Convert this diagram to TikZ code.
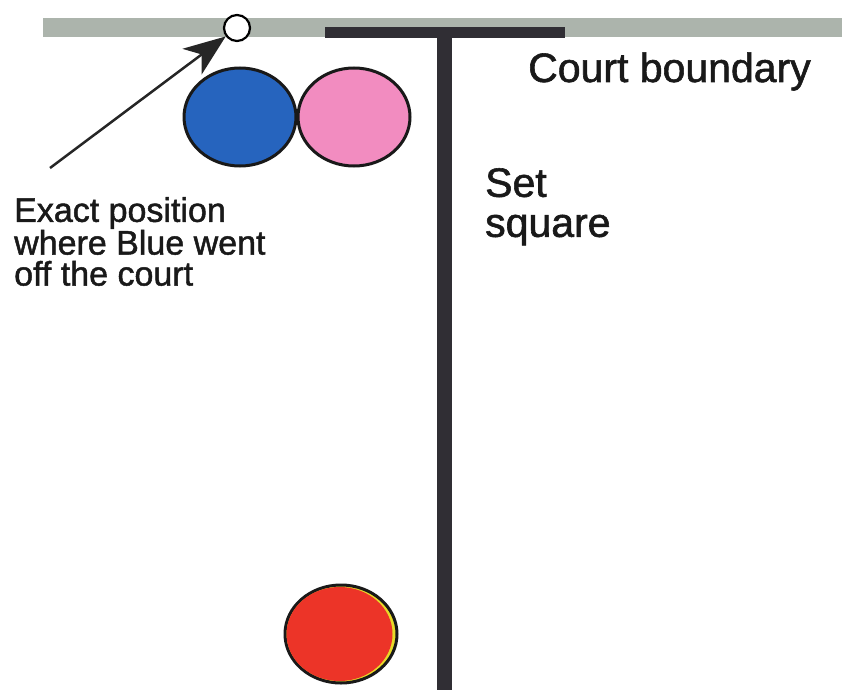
\documentclass[tikz,border=0pt]{standalone}
\usepackage{fontspec}
\setmainfont{Liberation Sans}
\newfontfamily\scanfont[FakeBold=1.4]{Liberation Sans}
\usetikzlibrary{arrows.meta,shapes.geometric,positioning}
\definecolor{courtgrey}{RGB}{172,180,172}
\definecolor{squareblack}{RGB}{48,46,52}
\definecolor{bowlblue}{RGB}{38,100,190}
\definecolor{bowlpink}{RGB}{242,140,192}
\definecolor{bowlred}{RGB}{236,52,40}
\definecolor{bowlyellow}{RGB}{232,218,40}
\tikzset{
  bowl/.style={ellipse, draw=black!90, line width=3pt, minimum width=112pt, minimum height=98pt, inner sep=0pt},
  notetext/.style={inner sep=0pt, text=black!90, font=\scanfont\fontsize{41}{40}\selectfont},
  smalltext/.style={notetext, font=\scanfont\fontsize{34}{31}\selectfont}
}
\begin{document}
\begin{tikzpicture}[x=1pt,y=-1pt]
\useasboundingbox (0,0) rectangle (842,690);
% court boundary and set square
\fill[courtgrey] (43,18) rectangle (842,37);
\fill[squareblack] (325,27) rectangle (565,38);
\fill[squareblack] (437,27) rectangle (452,690);
% bowls
\node[bowl, fill=bowlblue] (blue) at (240,117) {};
\node[bowl, fill=bowlpink] (pink) at (354,117) {};
\node[bowl, fill=bowlyellow] (red) at (341,634) {};
\fill[bowlred] (339.5,634) ellipse (53 and 47); % yellow rim left on the right
% where blue went off
\node[circle, draw=black, fill=white, line width=2.2pt, minimum size=26pt, inner sep=0pt] (spot) at (237,28) {};
\coordinate (tail) at (50,168);
\draw[line width=2.5pt, black!85, -{Stealth[length=42pt,width=32pt,inset=12pt]}] (tail) -- (spot);
% labels
\node[notetext, anchor=base west] (boundary) at (528,82) {Court boundary};
\node[notetext, anchor=north west, align=left] (setsq) at (485,168) {Set\\square};
\node[smalltext, anchor=north west, align=left] (offcourt) at (14,197) {Exact position\\where Blue went\\off the court};
\end{tikzpicture}
\end{document}
